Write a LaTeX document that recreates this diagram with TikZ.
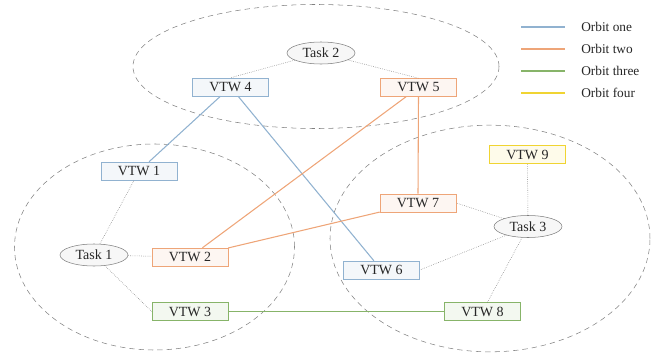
\documentclass[tikz,border=0pt]{standalone}
\usepackage[dvipsnames]{xcolor}
\usepackage{fontspec}
\setmainfont{Liberation Serif}
\usepackage{tikz}
\usetikzlibrary{arrows,shapes,positioning}

\definecolor{orbone}{RGB}{145,178,208}
\definecolor{orbtwo}{RGB}{238,165,120}
\definecolor{orbthree}{RGB}{135,180,105}
\definecolor{orbfour}{RGB}{240,212,50}

\begin{document}
\begin{tikzpicture}[x=0.75pt,y=-0.75pt]
\tikzstyle{vtw}=[draw, shape=rectangle, minimum height=13.5pt, minimum width=57pt, inner sep=0pt, font=\fontsize{10.5}{12}\selectfont, text=black!85]
\tikzstyle{task}=[draw=gray, fill=gray!6, shape=ellipse, minimum height=16.5pt, minimum width=51pt, inner sep=0pt, font=\fontsize{10.5}{12}\selectfont, text=black!85]
\tikzstyle{group}=[draw=gray, dash pattern=on 4pt off 3pt]
\tikzstyle{link}=[draw=black!55, densely dotted]
\tikzstyle{legend}=[anchor=west, inner sep=0pt, font=\fontsize{10}{12}\selectfont, text=black!85]
\useasboundingbox (0,0) rectangle (657,357);

% groups
\draw[group] (316,66.5) ellipse [x radius=137.25pt, y radius=46.5pt];
\draw[group] (154.5,247) ellipse [x radius=105pt, y radius=77.25pt];
\draw[group] (490,238.5) ellipse [x radius=120pt, y radius=85pt];

% tasks
\node[task] (t1) at (94,255) {Task 1};
\node[task] (t2) at (321,53) {Task 2};
\node[task] (t3) at (528,226.5) {Task 3};

% vtws
\node[vtw, draw=orbone, fill=orbone!10] (v1) at (139,171) {VTW 1};
\node[vtw, draw=orbtwo, fill=orbtwo!10] (v2) at (190,257) {VTW 2};
\node[vtw, draw=orbthree, fill=orbthree!10] (v3) at (190,311.5) {VTW 3};
\node[vtw, draw=orbone, fill=orbone!10] (v4) at (230.5,87) {VTW 4};
\node[vtw, draw=orbtwo, fill=orbtwo!10] (v5) at (418.5,87.5) {VTW 5};
\node[vtw, draw=orbone, fill=orbone!10] (v6) at (381.5,270) {VTW 6};
\node[vtw, draw=orbtwo, fill=orbtwo!10] (v7) at (418,203) {VTW 7};
\node[vtw, draw=orbthree, fill=orbthree!10] (v8) at (482.5,311.5) {VTW 8};
\node[vtw, draw=orbfour, fill=orbfour!10] (v9) at (527.5,154.5) {VTW 9};

% task links
\draw[link] (t2) to (v4.north);
\draw[link] (t2) to (v5.north);
\draw[link] (t1) to (v1);
\draw[link] (t1) to (v2);
\draw[link] (t1) to (v3.west);
\draw[link] (t3) to (v7.east);
\draw[link] (t3) to (v6.east);
\draw[link] (t3) to (v8);
\draw[link] (t3) to (v9);

% orbits
\draw[orbone, thick] (v4) to (v1);
\draw[orbone, thick] (v4) to (v6);
\draw[orbtwo, thick] (v5) to (v2);
\draw[orbtwo, thick] (v5.south) to (v7.north);
\draw[orbtwo, thick] (v7) to (v2);
\draw[orbthree, thick] (v3) to (v8);

% legend
\node[legend] (l1) at (581,27) {Orbit one};
\node[legend] (l2) at (581,49) {Orbit two};
\node[legend] (l3) at (581,71) {Orbit three};
\node[legend] (l4) at (581,93) {Orbit four};
\draw[orbone, thick] ([xshift=-45pt]l1.west) to ([xshift=-12pt]l1.west);
\draw[orbtwo, thick] ([xshift=-45pt]l2.west) to ([xshift=-12pt]l2.west);
\draw[orbthree, thick] ([xshift=-45pt]l3.west) to ([xshift=-12pt]l3.west);
\draw[orbfour, thick] ([xshift=-45pt]l4.west) to ([xshift=-12pt]l4.west);

\end{tikzpicture}
\end{document}
